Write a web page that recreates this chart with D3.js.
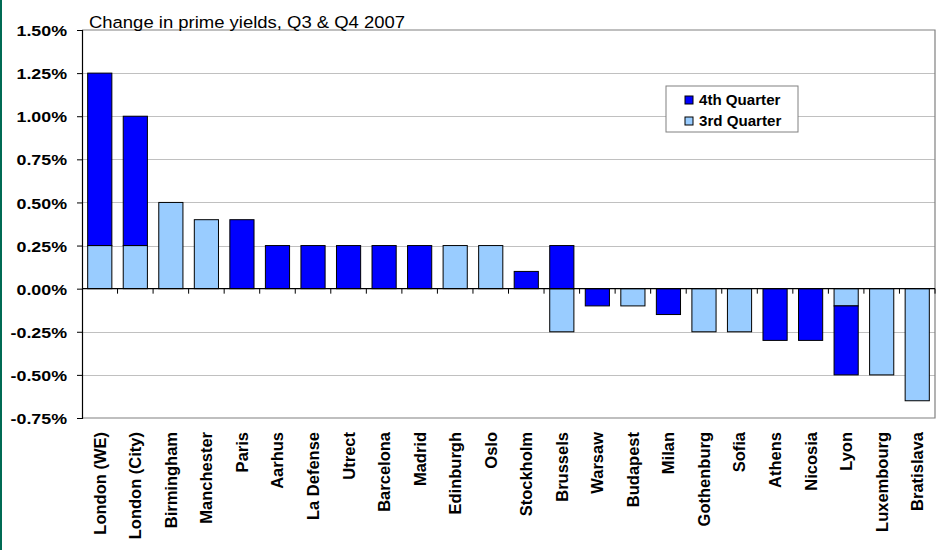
<!DOCTYPE html>
<html>
<head>
<meta charset="utf-8">
<script src="https://cdn.jsdelivr.net/npm/d3@7"></script>
<style>
  html, body { margin: 0; padding: 0; background: #ffffff; }
  svg { display: block; }
  text { font-family: "Liberation Sans", Arial, sans-serif; }
</style>
</head>
<body>
<svg id="chart" width="940" height="550"></svg>
<script>
const categories = ["London (WE)", "London (City)", "Birmingham", "Manchester", "Paris", "Aarhus",
  "La Defense", "Utrect", "Barcelona", "Madrid", "Edinburgh", "Oslo", "Stockholm", "Brussels",
  "Warsaw", "Budapest", "Milan", "Gothenburg", "Sofia", "Athens", "Nicosia", "Lyon", "Luxembourg", "Bratislava"];
const q3Values = [0.25, 0.25, 0.50, 0.40, 0, 0, 0, 0, 0, 0, 0.25, 0.25, 0, -0.25,
  0, -0.10, 0, -0.25, -0.25, 0, 0, -0.10, -0.50, -0.65];
const q4Values = [1.00, 0.75, 0, 0, 0.40, 0.25, 0.25, 0.25, 0.25, 0.25, 0, 0, 0.10, 0.25,
  -0.10, 0, -0.15, 0, 0, -0.30, -0.30, -0.40, 0, 0];
const yTicks = [1.5, 1.25, 1.0, 0.75, 0.5, 0.25, 0, -0.25, -0.5, -0.75];
const seriesNames = ["4th Quarter", "3rd Quarter"];
const titleText = "Change in prime yields, Q3 & Q4 2007";

const colQ4 = "#0000FF", colQ3 = "#99CCFF";

const svg = d3.select("#chart");
const pLeft = 82, pRight = 935, pTop = 30, pBottom = 418;

const x = d3.scaleBand().domain(categories).range([pLeft, pRight]).paddingInner(0.32).paddingOuter(0.16);
const y = d3.scaleLinear().domain([-0.75, 1.5]).range([pBottom, pTop]);

// green left edge
svg.append("rect").attr("x", 0).attr("y", 0).attr("width", 2).attr("height", 550).attr("fill", "#006B54");

// gridlines
svg.append("g").selectAll("line").data(yTicks.filter(d => d !== 0 && d !== 1.5 && d !== -0.75)).join("line")
  .attr("x1", pLeft).attr("x2", pRight).attr("y1", d => Math.round(y(d)) + 0.5).attr("y2", d => Math.round(y(d)) + 0.5)
  .attr("stroke", "#C0C0C0").attr("stroke-width", 1);

// frame top/right/bottom
svg.append("path")
  .attr("d", `M${pLeft},${y(1.5)}H${pRight}V${y(-0.75)}H${pLeft}`)
  .attr("fill", "none").attr("stroke", "#808080").attr("stroke-width", 1.2);

// stacked data (diverging)
const rows = categories.map((c, i) => ({ cat: c, q3: q3Values[i], q4: q4Values[i] }));
const series = d3.stack().keys(["q3", "q4"]).offset(d3.stackOffsetDiverging)(rows);
const colorOf = { q3: colQ3, q4: colQ4 };

const barG = svg.append("g");
series.forEach(s => {
  barG.append("g").attr("fill", colorOf[s.key])
    .selectAll("rect").data(s.filter(d => d[0] !== d[1])).join("rect")
    .attr("x", d => x(d.data.cat)).attr("width", x.bandwidth())
    .attr("y", d => y(Math.max(d[0], d[1])))
    .attr("height", d => Math.abs(y(d[0]) - y(d[1])))
    .attr("stroke", "#000").attr("stroke-width", 1);
});

// y axis
const yAxis = d3.axisLeft(y).tickValues(yTicks).tickSize(5).tickFormat(d => d.toFixed(2) + "%");
const yg = svg.append("g").attr("transform", `translate(${pLeft},0)`).call(yAxis);
yg.select(".domain").attr("stroke", "#000").attr("stroke-width", 1.2);
yg.selectAll(".tick line").attr("stroke", "#000");
yg.selectAll(".tick text")
  .attr("font-size", 15.5).attr("font-weight", "bold").attr("fill", "#000")
  .attr("x", 0).attr("dy", "0.36em")
  .attr("transform", "translate(-15,0) scale(1.15,1)")
  .attr("font-family", "Liberation Sans, Arial, sans-serif");

// zero line with ticks at category boundaries
svg.append("line").attr("x1", pLeft).attr("x2", pRight).attr("y1", y(0)).attr("y2", y(0))
  .attr("stroke", "#000").attr("stroke-width", 1.2);
const boundaries = categories.slice(1).map(c => x(c) - x.step() * x.paddingInner() / 2);
boundaries.push(pRight);
svg.append("g").selectAll("line").data(boundaries).join("line")
  .attr("x1", d => d).attr("x2", d => d).attr("y1", y(0)).attr("y2", y(0) + 5)
  .attr("stroke", "#000").attr("stroke-width", 1);

// x labels
svg.append("g").selectAll("text").data(categories).join("text")
  .attr("transform", d => `translate(${x(d) + x.bandwidth() / 2},432) rotate(-90)`)
  .attr("text-anchor", "end").attr("dy", "0.36em")
  .attr("font-size", 16.5).attr("font-weight", "bold").attr("fill", "#000")
  .text(d => d);

// title
svg.append("text").attr("x", 89).attr("y", 28)
  .attr("transform", "translate(89,0) scale(1.1,1) translate(-89,0)")
  .attr("font-size", 16.8).attr("fill", "#000").text(titleText);

// legend
const lg = svg.append("g");
lg.append("rect").attr("x", 666).attr("y", 86).attr("width", 132).attr("height", 46)
  .attr("fill", "#fff").attr("stroke", "#808080").attr("stroke-width", 1);
const legCols = [colQ4, colQ3];
seriesNames.forEach((n, i) => {
  const yy = 96 + i * 21;
  lg.append("rect").attr("x", 685).attr("y", yy).attr("width", 8).attr("height", 8)
    .attr("fill", legCols[i]).attr("stroke", "#000").attr("stroke-width", 1);
  lg.append("text").attr("x", 699).attr("y", yy + 9)
    .attr("transform", `translate(699,0) scale(1.08,1) translate(-699,0)`)
    .attr("font-size", 14).attr("font-weight", "bold").attr("fill", "#000").text(n);
});
</script>
</body>
</html>
